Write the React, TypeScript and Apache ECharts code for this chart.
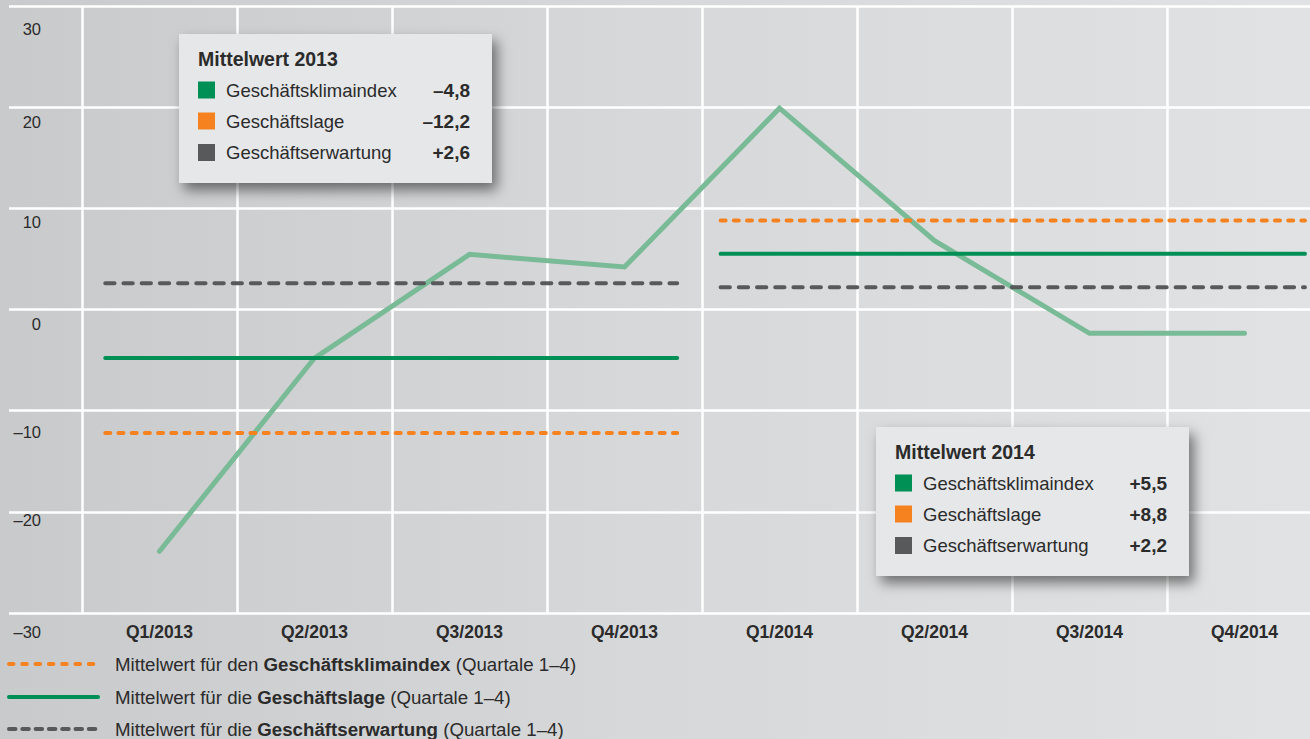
import React, { useEffect, useRef } from "react";
import * as echarts from "echarts";

// ---------- data ----------
const quarters = ["Q1/2013", "Q2/2013", "Q3/2013", "Q4/2013", "Q1/2014", "Q2/2014", "Q3/2014", "Q4/2014"];
const klimaindex = [-23.9, -4.8, 5.45, 4.2, 19.9, 6.8, -2.35, -2.35];
const boxNames = ["Geschäftsklimaindex", "Geschäftslage", "Geschäftserwartung"];
const mean2013 = [-4.8, -12.2, 2.6];
const mean2014 = [5.5, 8.8, 2.2];
const yTicks = [-30, -20, -10, 0, 10, 20, 30];
// spans of the mean lines, in quarter units (0 = left edge of Q1/2013)
const span2013 = [0.15, 3.84];
const span2014 = [4.12, 7.89];
const legendPre = ["Mittelwert für den ", "Mittelwert für die ", "Mittelwert für die "];
const legendBold = ["Geschäftsklimaindex", "Geschäftslage", "Geschäftserwartung"];
const legendPost = " (Quartale 1–4)";

// ---------- styles ----------
const FONT = "'Liberation Sans', Arial, sans-serif";
const TEXT = "#2b2b2b";
const GREEN = "#008f55";
const ORANGE = "#f5821f";
const GREY = "#58595b";
const LIGHT_GREEN = "#79ba97";
const seriesColors = [GREEN, ORANGE, GREY];
const seriesDash: any[] = ["solid", [5, 8.2], [9.3, 8.9]];
const legendColors = [ORANGE, GREEN, GREY];
const legendDash: any[] = [[4.5, 8.8], "solid", [6.5, 6.8]];
const yLabelOffsets: Record<string, number> = { "30": 23, "20": 15, "10": 14, "0": 14, "-10": 21, "-20": 8, "-30": 19 };

const fmtTick = (v: number) => (v < 0 ? "–" + Math.abs(v) : String(v));
const fmtMean = (v: number) => (v < 0 ? "–" : "+") + Math.abs(v).toFixed(1).replace(".", ",");

const Z = 100;

function box(left: number, top: number, title: string, values: number[]) {
  const rowsY = [56, 87, 118.5];
  const children: any[] = [
    {
      type: "rect",
      z: Z,
      shape: { x: 0, y: 0, width: 313, height: 149 },
      style: {
        fill: "#e6e7e8",
        shadowBlur: 13,
        shadowOffsetX: 5,
        shadowOffsetY: 7,
        shadowColor: "rgba(0,0,0,0.5)",
      },
    },
    {
      type: "text",
      z: Z + 1,
      x: 19,
      y: 24.5,
      style: { text: title, fontFamily: FONT, fontSize: 19.5, fontWeight: "bold", fill: TEXT, verticalAlign: "middle" },
    },
  ];
  boxNames.forEach((name, i) => {
    children.push(
      {
        type: "rect",
        z: Z + 1,
        shape: { x: 19, y: rowsY[i] - 8.5, width: 17, height: 17 },
        style: { fill: seriesColors[i] },
      },
      {
        type: "text",
        z: Z + 1,
        x: 47,
        y: rowsY[i],
        style: { text: name, fontFamily: FONT, fontSize: 18.5, fill: TEXT, verticalAlign: "middle" },
      },
      {
        type: "text",
        z: Z + 1,
        x: 291,
        y: rowsY[i],
        style: {
          text: fmtMean(values[i]),
          fontFamily: FONT,
          fontSize: 19,
          fontWeight: "bold",
          fill: TEXT,
          align: "right",
          verticalAlign: "middle",
        },
      }
    );
  });
  return { type: "group", x: left, y: top, z: Z, children };
}

function bottomLegend() {
  const rows = [664, 697, 729];
  const children: any[] = [];
  rows.forEach((y, i) => {
    children.push(
      {
        type: "line",
        z: Z,
        shape: { x1: 9, y1: y, x2: 98, y2: y },
        style: {
          stroke: legendColors[i],
          lineWidth: 4,
          lineCap: "round",
          lineDash: legendDash[i] === "solid" ? null : legendDash[i],
        },
      },
      {
        type: "text",
        z: Z,
        x: 115,
        y: y,
        style: {
          text: `{n|${legendPre[i]}}{b|${legendBold[i]}}{n|${legendPost}}`,
          verticalAlign: "middle",
          rich: {
            n: { fontFamily: FONT, fontSize: 18.7, fill: TEXT, color: TEXT },
            b: { fontFamily: FONT, fontSize: 18.7, fontWeight: "bold", fill: TEXT, color: TEXT },
          },
        },
      }
    );
  });
  return { type: "group", z: Z, children };
}

export default function App() {
  const ref = useRef<HTMLDivElement>(null);

  useEffect(() => {
    if (!ref.current) return;
    const chart = echarts.init(ref.current, undefined, { renderer: "svg" });

    const meanSeries: any[] = [];
    [
      { span: span2013, values: mean2013 },
      { span: span2014, values: mean2014 },
    ].forEach(({ span, values }) => {
      values.forEach((v, i) => {
        meanSeries.push({
          type: "line",
          xAxisIndex: 1,
          yAxisIndex: 0,
          data: [
            [span[0], v],
            [span[1], v],
          ],
          symbol: "none",
          silent: true,
          z: 3,
          lineStyle: { color: seriesColors[i], width: 4, type: seriesDash[i], cap: "round" },
        });
      });
    });

    const rich: Record<string, any> = {};
    yTicks.forEach((t, i) => {
      rich["o" + i] = {
        fontFamily: FONT,
        fontSize: 16.5,
        color: TEXT,
        align: "right",
        padding: [2 * yLabelOffsets[String(t)], 0, 0, 0],
      };
    });

    const option: any = {
      animation: false,
      backgroundColor: new echarts.graphic.LinearGradient(0, 0, 1, 0, [
        { offset: 0, color: "#c9cacc" },
        { offset: 0.5, color: "#d7d8da" },
        { offset: 1, color: "#e1e2e3" },
      ]),
      textStyle: { fontFamily: FONT },
      grid: [
        { left: 82, top: 6, width: 1240, height: 607, outerBoundsMode: "none", containLabel: false },
        { left: 9, top: 6, width: 73, height: 607, outerBoundsMode: "none", containLabel: false },
      ],
      xAxis: [
        {
          type: "category",
          gridIndex: 0,
          data: quarters,
          boundaryGap: true,
          axisLine: { show: false },
          axisTick: { show: false },
          splitLine: { show: true, interval: 0, lineStyle: { color: "#ffffff", width: 2.5 } },
          axisLabel: { interval: 0, fontFamily: FONT, fontSize: 17.5, fontWeight: "bold", color: TEXT, margin: 10 },
        },
        { type: "value", gridIndex: 0, min: 0, max: 8, show: false },
        { type: "value", gridIndex: 1, min: 0, max: 1, show: false },
      ],
      yAxis: [
        {
          type: "value",
          gridIndex: 0,
          min: -30,
          max: 30,
          interval: 10,
          axisLine: { show: false },
          axisTick: { show: false },
          axisLabel: { show: false },
          splitLine: { show: true, lineStyle: { color: "#ffffff", width: 2.5 } },
        },
        {
          type: "value",
          gridIndex: 1,
          min: -30,
          max: 30,
          interval: 10,
          axisLine: { show: false },
          axisTick: { show: false },
          splitLine: { show: true, lineStyle: { color: "#ffffff", width: 2.5 } },
          axisLabel: {
            inside: true,
            margin: 32,
            align: "right",
            verticalAlign: "middle",
            fontFamily: FONT,
            fontSize: 16.5,
            color: TEXT,
            showMinLabel: true,
            showMaxLabel: true,
            formatter: (v: number) => `{o${yTicks.indexOf(v)}|${fmtTick(v)}}`,
            rich,
          },
        },
      ],
      series: [
        {
          type: "line",
          name: boxNames[0],
          xAxisIndex: 0,
          yAxisIndex: 0,
          data: klimaindex,
          symbol: "none",
          silent: true,
          z: 2,
          lineStyle: { color: LIGHT_GREEN, width: 5, cap: "round", join: "miter" },
        },
        ...meanSeries,
      ],
      graphic: {
        z: Z,
        elements: [box(179, 34, "Mittelwert 2013", mean2013), box(876, 427, "Mittelwert 2014", mean2014), bottomLegend()],
      },
    };

    chart.setOption(option);
    return () => chart.dispose();
  }, []);

  return <div ref={ref} style={{ position: "absolute", left: 0, top: 0, width: 1310, height: 739 }} />;
}
